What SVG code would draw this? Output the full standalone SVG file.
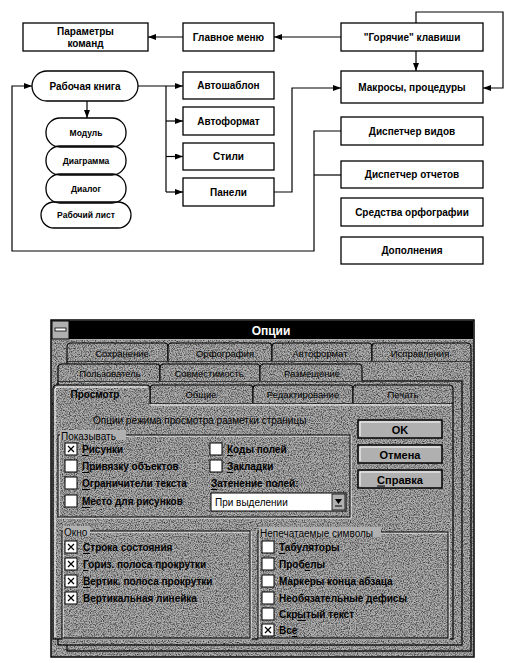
<svg xmlns="http://www.w3.org/2000/svg" width="524" height="663" viewBox="0 0 524 663">
<defs>
<marker id="ah" markerUnits="userSpaceOnUse" markerWidth="9" markerHeight="7" refX="8" refY="3" orient="auto">
<path d="M0,0 L8,3 L0,6 z" fill="#000"/>
</marker>
<filter id="grain" x="0" y="0" width="100%" height="100%">
<feTurbulence type="fractalNoise" baseFrequency="0.85" numOctaves="2" seed="7"/>
<feColorMatrix type="matrix" values="0 0 0 0 0  0 0 0 0 0  0 0 0 0 0  1.6 0 0 0 -0.62"/>
</filter>
<style>
.bx{fill:#fff;stroke:#000;stroke-width:1.3}
.pl{fill:none;stroke:#000;stroke-width:1.3}
.t{font-family:"Liberation Sans",Arial,sans-serif;font-size:10px;font-weight:bold;text-anchor:middle;dominant-baseline:central;fill:#000}
.ts{font-size:8.5px}
.cn{fill:none;stroke:#000;stroke-width:1.2}
.pg{fill:#b0b0b0;stroke:#000;stroke-width:1.2}
.tab{fill:#b0b0b0;stroke:#000;stroke-width:1.1}
.hl{fill:none;stroke:#fff;stroke-width:1}
.d{font-family:"Liberation Sans",Arial,sans-serif;font-size:10px;fill:#000;dominant-baseline:central}
.db{font-weight:bold}
.tt{font-size:9.5px;text-anchor:middle}
.cb{fill:#fff;stroke:#000;stroke-width:1}
.x{stroke:#000;stroke-width:1.2}
.gb{fill:none;stroke:#000;stroke-width:1}
.gw{fill:none;stroke:#fff;stroke-width:1}
.btn{fill:#b0b0b0;stroke:#000;stroke-width:1.5}
.u{text-decoration:underline}
</style>
</defs>
<rect width="524" height="663" fill="#fff"/>

<g id="connectors">
<path class="cn" d="M183,37 H148" marker-end="url(#ah)"/>
<path class="cn" d="M341,37 H274" marker-end="url(#ah)"/>
<path class="cn" d="M416,51 V71" marker-end="url(#ah)"/>
<path class="cn" d="M416,23 V12 H503 V88 H483" marker-end="url(#ah)"/>
<path class="cn" d="M138,86 H183" marker-end="url(#ah)"/>
<path class="cn" d="M166,86 V192"/>
<path class="cn" d="M166,121 H183" marker-end="url(#ah)"/>
<path class="cn" d="M166,156.5 H183" marker-end="url(#ah)"/>
<path class="cn" d="M166,192 H183" marker-end="url(#ah)"/>
<path class="cn" d="M87,101 V118" marker-end="url(#ah)"/>
<path class="cn" d="M274,192 H292 V88 H341" marker-end="url(#ah)"/>
<path class="cn" d="M341,131 H314 V251 H12 V86 H32" marker-end="url(#ah)"/>
<path class="cn" d="M341,175 H314"/>
</g>

<g id="params"><rect class="bx" x="23" y="23" width="125" height="28"/><text class="t" x="85.5" y="31.5">Параметры</text><text class="t" x="85.5" y="43.5">команд</text></g>
<g id="mainmenu"><rect class="bx" x="183" y="23" width="91" height="28"/><text class="t" x="228.5" y="37">Главное меню</text></g>
<g id="hotkeys"><rect class="bx" x="341" y="23" width="142" height="28"/><text class="t" x="412" y="37">"Горячие" клавиши</text></g>
<g id="macros"><rect class="bx" x="341" y="71" width="142" height="32"/><text class="t" x="412" y="87">Макросы, процедуры</text></g>
<g id="workbook"><rect class="bx" x="32" y="71" width="106" height="30" rx="15"/><text class="t" x="85" y="86">Рабочая книга</text></g>
<g id="module"><rect class="pl" x="46" y="118" width="80" height="29" rx="14"/><text class="t ts" x="86" y="132.5">Модуль</text></g>
<g id="chart"><rect class="pl" x="46" y="146" width="80" height="29" rx="14"/><text class="t ts" x="86" y="160.5">Диаграмма</text></g>
<g id="dialogsheet"><rect class="pl" x="46" y="174" width="80" height="29" rx="14"/><text class="t ts" x="86" y="188.5">Диалог</text></g>
<g id="worksheet"><rect class="pl" x="41" y="202" width="90" height="26" rx="13"/><text class="t ts" x="86" y="215">Рабочий лист</text></g>
<g id="autotemplate"><rect class="bx" x="183" y="72" width="91" height="27"/><text class="t" x="228.5" y="85.5">Автошаблон</text></g>
<g id="autoformat"><rect class="bx" x="183" y="107" width="91" height="28"/><text class="t" x="228.5" y="121">Автоформат</text></g>
<g id="styles"><rect class="bx" x="183" y="143" width="91" height="27"/><text class="t" x="228.5" y="156.5">Стили</text></g>
<g id="panels"><rect class="bx" x="183" y="178" width="91" height="28"/><text class="t" x="228.5" y="192">Панели</text></g>
<g id="viewmgr"><rect class="bx" x="341" y="117" width="142" height="28"/><text class="t" x="412" y="131">Диспетчер видов</text></g>
<g id="reportmgr"><rect class="bx" x="341" y="161" width="142" height="27"/><text class="t" x="412" y="174.5">Диспетчер отчетов</text></g>
<g id="spelling"><rect class="bx" x="341" y="198" width="142" height="28"/><text class="t" x="412" y="212">Средства орфографии</text></g>
<g id="addins"><rect class="bx" x="341" y="237" width="142" height="27"/><text class="t" x="412" y="250.5">Дополнения</text></g>

<g id="options-dialog">
<rect x="51" y="320" width="423" height="337" fill="#b0b0b0" stroke="#000" stroke-width="1.5"/>
<rect x="52" y="321" width="17" height="18" fill="#b0b0b0" stroke="#000" stroke-width="1"/>
<rect x="55" y="328" width="11" height="3" fill="#fff" stroke="#000" stroke-width="0.8"/>
<rect x="69" y="321" width="404" height="18" fill="#000"/>
<text class="d db" x="271" y="330.5" text-anchor="middle" style="font-size:12px;fill:#fff">Опции</text>

<!-- back page -->
<rect class="pg" x="67" y="361" width="404" height="290"/>
<path class="tab" d="M67,361 V347 Q67,343 71,343 H164 Q168,343 168,347 V361"/>
<path class="tab" d="M168,361 V347 Q168,343 172,343 H268 Q272,343 272,347 V361"/>
<path class="tab" d="M272,361 V347 Q272,343 276,343 H368 Q372,343 372,347 V361"/>
<path class="tab" d="M372,361 V347 Q372,343 376,343 H467 Q471,343 471,347 V361"/>

<!-- middle page -->
<rect class="pg" x="58" y="381" width="404" height="264"/>
<path class="tab" d="M58,381 V368 Q58,364 62,364 H156 Q160,364 160,368 V381"/>
<path class="tab" d="M160,381 V368 Q160,364 164,364 H256 Q260,364 260,368 V381"/>
<path class="tab" d="M260,381 V368 Q260,364 264,364 H358 Q362,364 362,368 V381"/>

<!-- front page -->
<rect class="pg" x="53" y="403" width="400" height="236"/>
<path class="tab" d="M150,403 V389 Q150,385 154,385 H249 Q253,385 253,389 V403"/>
<path class="tab" d="M253,403 V389 Q253,385 257,385 H349 Q353,385 353,389 V403"/>
<path class="tab" d="M353,403 V389 Q353,385 357,385 H449 Q453,385 453,389 V403"/>
<path d="M53,405 V389 Q53,385 57,385 H146 Q150,385 150,389 V403" fill="#b0b0b0" stroke="#000" stroke-width="1.1"/>
<rect x="54" y="402" width="95" height="3" fill="#b0b0b0"/>

<!-- scan grain -->
<rect x="52" y="340" width="421" height="316" filter="url(#grain)"/>

<path class="hl" d="M55,637 V390 Q55,387 58,387 H147"/>
<path class="hl" d="M151,405 H451"/>

<text class="d tt" x="122" y="353">Сохранение</text>
<text class="d tt" x="225" y="353">Орфография</text>
<text class="d tt" x="320" y="353">Автоформат</text>
<text class="d tt" x="420" y="353">Исправления</text>
<text class="d tt" x="110" y="373">Пользователь</text>
<text class="d tt" x="209" y="373">Совместимость</text>
<text class="d tt" x="312" y="373">Размещение</text>
<text class="d tt db" x="95" y="394" style="font-size:10px">Просмотр</text>
<text class="d tt" x="201" y="394">Общие</text>
<text class="d tt" x="303" y="394">Редактирование</text>
<text class="d tt" x="403" y="394">Печать</text>

<text class="d" x="93" y="420">Опции режима просмотра разметки страницы</text>

<!-- group Показывать -->
<rect class="gw" x="59" y="436" width="292" height="82"/>
<rect class="gb" x="58" y="435" width="292" height="82"/>
<rect x="60" y="430" width="66" height="10" fill="#b0b0b0"/>
<text class="d" x="61" y="436">Показывать</text>

<rect class="cb" x="65" y="443" width="12" height="12"/>
<path class="x" d="M68,446 L74,452 M74,446 L68,452"/>
<text class="d db" x="82" y="449"><tspan class="u">Р</tspan>исунки</text>
<rect class="cb" x="65" y="460" width="12" height="12"/>
<text class="d db" x="82" y="466"><tspan class="u">П</tspan>ривязку объектов</text>
<rect class="cb" x="65" y="477" width="12" height="12"/>
<text class="d db" x="82" y="483"><tspan class="u">О</tspan>граничители текста</text>
<rect class="cb" x="65" y="495" width="12" height="12"/>
<text class="d db" x="82" y="501"><tspan class="u">М</tspan>есто для рисунков</text>

<rect class="cb" x="210" y="443" width="12" height="12"/>
<text class="d db" x="227" y="449"><tspan class="u">К</tspan>оды полей</text>
<rect class="cb" x="210" y="460" width="12" height="12"/>
<text class="d db" x="227" y="466"><tspan class="u">З</tspan>акладки</text>
<text class="d db" x="211" y="483"><tspan class="u">З</tspan>атенение полей:</text>
<rect class="cb" x="211" y="493" width="135" height="18"/>
<text class="d" x="215" y="502">При выделении</text>
<rect x="332" y="494" width="13" height="16" fill="#b0b0b0" stroke="#000" stroke-width="0.8"/>
<path d="M335,499 H342 L338.5,504 z" fill="#000"/>
<path d="M335,506 H342" stroke="#000" stroke-width="1"/>

<!-- buttons -->
<rect class="btn" x="358" y="420" width="84" height="18" stroke-width="2.5"/>
<path class="hl" d="M360,436 V422 H440"/>
<text class="d db" x="400" y="429.5" text-anchor="middle" style="font-size:11px">OK</text>
<rect class="btn" x="358" y="445" width="84" height="18"/>
<path class="hl" d="M360,461 V447 H440"/>
<text class="d db" x="400" y="454.5" text-anchor="middle" style="font-size:11px">Отмена</text>
<rect class="btn" x="358" y="470" width="84" height="18"/>
<path class="hl" d="M360,486 V472 H440"/>
<text class="d db" x="400" y="479.5" text-anchor="middle" style="font-size:11px"><tspan class="u">С</tspan>правка</text>

<!-- group Окно -->
<rect class="gw" x="63" y="532" width="188" height="107"/>
<rect class="gb" x="62" y="531" width="188" height="107"/>
<rect x="63" y="526" width="27" height="10" fill="#b0b0b0"/>
<text class="d" x="64" y="532">Окно</text>
<rect class="cb" x="65" y="541" width="12" height="12"/>
<path class="x" d="M68,544 L74,550 M74,544 L68,550"/>
<text class="d db" x="83" y="547"><tspan class="u">С</tspan>трока состояния</text>
<rect class="cb" x="65" y="558" width="12" height="12"/>
<path class="x" d="M68,561 L74,567 M74,561 L68,567"/>
<text class="d db" x="83" y="564"><tspan class="u">Г</tspan>ориз. полоса прокрутки</text>
<rect class="cb" x="65" y="575" width="12" height="12"/>
<path class="x" d="M68,578 L74,584 M74,578 L68,584"/>
<text class="d db" x="83" y="581"><tspan class="u">В</tspan>ертик. полоса прокрутки</text>
<rect class="cb" x="65" y="592" width="12" height="12"/>
<path class="x" d="M68,595 L74,601 M74,595 L68,601"/>
<text class="d db" x="83" y="598">Вертикальная линейка</text>

<!-- group Непечатаемые символы -->
<rect class="gw" x="259" y="533" width="190" height="106"/>
<rect class="gb" x="258" y="532" width="190" height="106"/>
<rect x="259" y="527" width="122" height="10" fill="#b0b0b0"/>
<text class="d" x="260" y="533">Непечатаемые символы</text>
<rect class="cb" x="262" y="541" width="12" height="12"/>
<text class="d db" x="279" y="547"><tspan class="u">Т</tspan>абуляторы</text>
<rect class="cb" x="262" y="558" width="12" height="12"/>
<text class="d db" x="279" y="564">Проб<tspan class="u">е</tspan>лы</text>
<rect class="cb" x="262" y="575" width="12" height="12"/>
<text class="d db" x="279" y="581">Маркеры конца абзаца</text>
<rect class="cb" x="262" y="592" width="12" height="12"/>
<text class="d db" x="279" y="598">Необязательные дефисы</text>
<rect class="cb" x="262" y="608" width="12" height="12"/>
<text class="d db" x="279" y="614">Скр<tspan class="u">ы</tspan>тый текст</text>
<rect class="cb" x="262" y="624" width="12" height="12"/>
<path class="x" d="M265,627 L271,633 M271,627 L265,633"/>
<text class="d db" x="279" y="630">Вс<tspan class="u">е</tspan></text>
</g>
</svg>
